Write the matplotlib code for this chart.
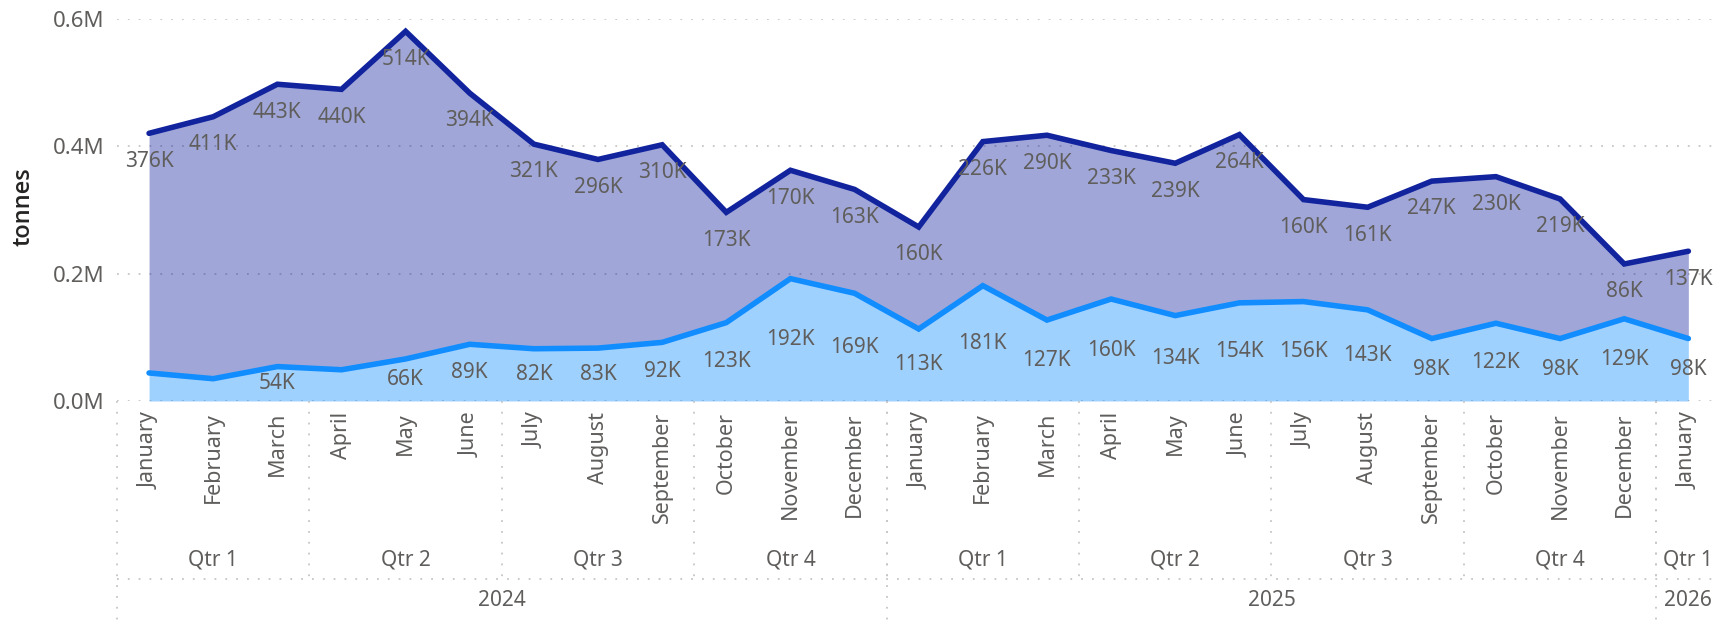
import numpy as np
import matplotlib
matplotlib.use("Agg")
import matplotlib.pyplot as plt
from matplotlib import transforms

plt.rcParams['font.family'] = ['Noto Sans', 'DejaVu Sans']

# monthly tonnes (thousands), stacked area: lower series + upper series
months = ["January", "February", "March", "April", "May", "June", "July",
          "August", "September", "October", "November", "December",
          "January", "February", "March", "April", "May", "June", "July",
          "August", "September", "October", "November", "December", "January"]
lower = [44, 35, 54, 49, 66, 89, 82, 83, 92, 123, 192, 169,
         113, 181, 127, 160, 134, 154, 156, 143, 98, 122, 98, 129, 98]
upper = [376, 411, 443, 440, 514, 394, 321, 296, 310, 173, 170, 163,
         160, 226, 290, 233, 239, 264, 160, 161, 247, 230, 219, 86, 137]
# lower labels hidden by the original chart for these months
lower_hidden = [0, 1, 3]

quarters = ["Qtr 1", "Qtr 2", "Qtr 3", "Qtr 4", "Qtr 1", "Qtr 2", "Qtr 3", "Qtr 4", "Qtr 1"]
quarter_span = [(0, 2), (3, 5), (6, 8), (9, 11), (12, 14), (15, 17), (18, 20), (21, 23), (24, 24)]
years = ["2024", "2025", "2026"]
year_span = [(0, 11), (12, 23), (24, 24)]

dark = "#12239E"
light = "#118DFF"
grey = "#605E5C"
grid_c = "#C8C6C4"
dots = (0, (1, 5))

x = np.arange(len(months))
lo = np.array(lower) * 1000
up = np.array(upper) * 1000
top = lo + up

W, H = 1714, 623
fig = plt.figure(figsize=(W / 100, H / 100), dpi=100)
ax = fig.add_axes([117 / W, (H - 401) / H, (W - 117) / W, (401 - 18.6) / H])

ax.fill_between(x, 0, lo, color=light, alpha=0.4, lw=0)
ax.fill_between(x, lo, top, color=dark, alpha=0.4, lw=0)
ax.plot(x, lo, color=light, lw=4, solid_joinstyle='miter', solid_capstyle='round')
ax.plot(x, top, color=dark, lw=4, solid_joinstyle='miter', solid_capstyle='round')

for i in range(len(x)):
    ax.annotate(f"{upper[i]}K", (x[i], top[i]), xytext=(0, -20), textcoords='offset points',
                ha='center', va='center', fontsize=15, color=grey)
    if i not in lower_hidden:
        ax.text(x[i], lo[i] / 2, f"{lower[i]}K", ha='center', va='center', fontsize=15, color=grey)

ax.set_xlim(-0.5, 24.4)
ax.set_ylim(0, 600000)
ax.set_yticks([0, 200000, 400000, 600000])
ax.set_yticklabels([f"{v / 1e6:.1f}M" for v in [0, 200000, 400000, 600000]])
ax.yaxis.grid(True, color=grid_c, linestyle=dots, lw=1.3)
ax.set_axisbelow(True)
for s in ax.spines.values():
    s.set_visible(False)
ax.tick_params(axis='y', length=0, pad=9, labelsize=16, labelcolor=grey)
ax.set_xticks(x)
ax.set_xticklabels(months, rotation=90)
ax.tick_params(axis='x', length=0, pad=8, labelsize=15.5, labelcolor=grey)

fig.text(23 / W, 1 - 207 / H, "tonnes", rotation=90, ha='center', va='center',
         fontsize=17, fontweight='semibold', color="#252423",
         family=['Open Sans', 'DejaVu Sans'])

# hierarchical category axis below the months
tr = transforms.blended_transform_factory(ax.transData, fig.transFigure)
y_axis = (H - 401) / H
y_qsep = (H - 579) / H
y_q = (H - 560) / H
y_y = (H - 600) / H

for (a, b), q in zip(quarter_span, quarters):
    ax.text((a + b) / 2, y_q, q, transform=tr, ha='center', va='center',
            fontsize=15, color=grey, clip_on=False)
for (a, b), yr in zip(year_span, years):
    ax.text((a + b) / 2, y_y, yr, transform=tr, ha='center', va='center',
            fontsize=15, color=grey, clip_on=False)

for a, b in quarter_span[:-1]:
    ax.plot([b + 0.5, b + 0.5], [y_axis, y_qsep], transform=tr, color=grid_c,
            linestyle=dots, lw=1.3, clip_on=False)
for a, b in [(0, -1)] + year_span[:-1]:
    ax.plot([b + 0.5, b + 0.5], [y_axis, 0], transform=tr, color=grid_c,
            linestyle=dots, lw=1.3, clip_on=False)
ax.plot([-0.5, 24.4], [y_qsep, y_qsep], transform=tr, color=grid_c,
        linestyle=dots, lw=1.3, clip_on=False)

fig.savefig("out.png", dpi=100)
